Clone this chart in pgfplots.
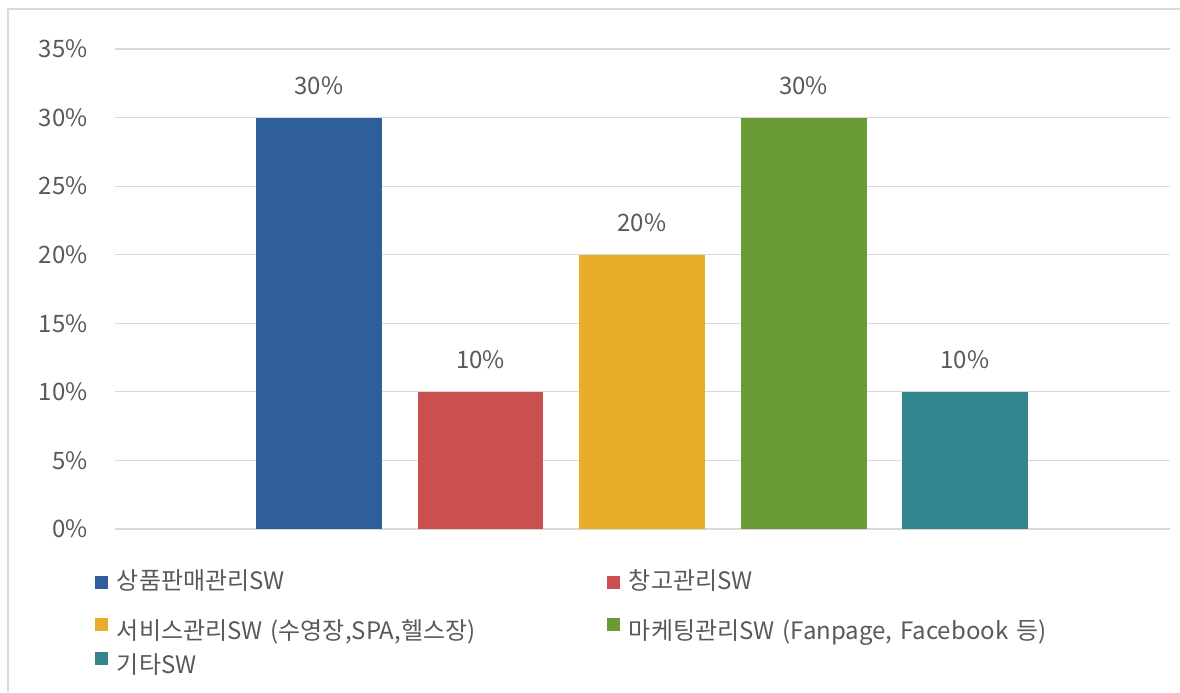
\documentclass[border=0pt]{standalone}
\usepackage{fontspec}
\setmainfont{Noto Sans CJK KR}
\usepackage{pgfplots}
\pgfplotsset{compat=1.18}
\definecolor{cBlue}{HTML}{2F5F98}
\definecolor{cRed}{HTML}{C9504F}
\definecolor{cYellow}{HTML}{E8AD2B}
\definecolor{cGreen}{HTML}{6B9B34}
\definecolor{cTeal}{HTML}{33868E}
\definecolor{cText}{HTML}{595959}
\definecolor{cGrid}{HTML}{D9D9D9}
\begin{document}
\begin{tikzpicture}
\path[use as bounding box] (0pt,0pt) rectangle (590pt,346pt);
\draw[cGrid, line width=0.6pt] (4pt,0pt) -- (4pt,341.5pt) -- (590pt,341.5pt);
\begin{axis}[
  at={(57.5pt,81.5pt)}, anchor=south west,
  scale only axis, width=527.5pt, height=240pt,
  /pgf/number format/assume math mode=true,
  ybar, bar shift=0pt, bar width=0.78,
  xmin=-1.263, xmax=5.269,
  ymin=0, ymax=35,
  ytick={0,5,...,35},
  yticklabels={0\%,5\%,10\%,15\%,20\%,25\%,30\%,35\%},
  xtick=\empty,
  major tick length=0pt,
  axis line style={draw=none},
  ymajorgrids, grid style={cGrid, line width=0.6pt},
  tick label style={font=\fontsize{12}{14}\selectfont, text=cText},
  yticklabel style={inner sep=0pt, xshift=-13.5pt},
  nodes near coords={\pgfmathprintnumber{\pgfplotspointmeta}\%},
  nodes near coords style={font=\fontsize{12}{14}\selectfont, text=cText, anchor=base, inner sep=0pt, yshift=11.5pt},
  legend columns=2,
  legend cell align=left,
  legend style={at={(-0.019,-0.081)}, anchor=north west, draw=none, fill=none,
    inner sep=0pt, outer sep=0pt, row sep=2pt,
    font=\fontsize{12}{14}\selectfont, text=cText,
    nodes={inner sep=0pt, text height=11pt, text depth=4pt, text width=245pt, align=left},
    /tikz/every odd column/.append style={column sep=4.5pt}},
  legend image code/.code={\path[#1, draw=none] (0pt,0.9pt) rectangle (6.5pt,7.4pt);},
]
\addplot[fill=cBlue, draw=none] coordinates {(0,30)};
\addlegendentry[text depth=12pt]{상품판매관리SW}
\addplot[fill=cRed, draw=none] coordinates {(1,10)};
\addlegendentry[text depth=12pt]{창고관리SW}
\addplot[fill=cYellow, draw=none] coordinates {(2,20)};
\addlegendentry{서비스관리SW (수영장,SPA,헬스장)}
\addplot[fill=cGreen, draw=none] coordinates {(3,30)};
\addlegendentry{마케팅관리SW (Fanpage, Facebook 등)}
\addplot[fill=cTeal, draw=none] coordinates {(4,10)};
\addlegendentry{기타SW}
\end{axis}
\end{tikzpicture}
\end{document}
